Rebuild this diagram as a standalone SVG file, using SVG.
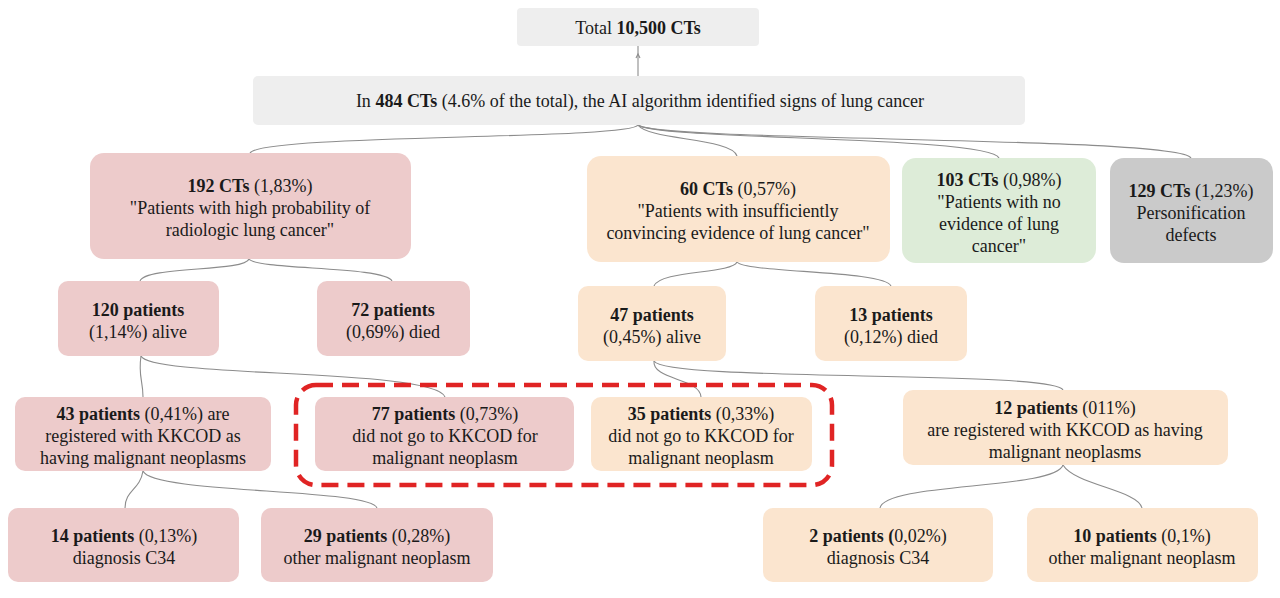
<svg xmlns="http://www.w3.org/2000/svg" width="1280" height="598" viewBox="0 0 1280 598">
<style>
text{font-family:"Liberation Serif","Times New Roman",serif;font-size:18px;fill:#1a1a1a;text-anchor:middle}
.b{font-weight:bold}
.gray{fill:#eeeeee}
.pink{fill:#edcbcb}
.peach{fill:#fbe5cf}
.green{fill:#ddecd8}
.dgray{fill:#cacaca}
.c{fill:none;stroke:#8c8c8c;stroke-width:1.1}
</style>
<rect width="1280" height="598" fill="#ffffff"/>
<g id="connectors">
<path class="c" d="M638 46 L638 76"/>
<path class="c" d="M636 58 L638 54 L640 58"/>
<path class="c" d="M638 125 C630 140 262 134 250 153"/>
<path class="c" d="M638 125 C648 140 732 138 737 156"/>
<path class="c" d="M638 125 C655 140 990 136 999 158"/>
<path class="c" d="M638 125 C660 142 1180 136 1191 158"/>
<path class="c" d="M249 259 C245 272 145 266 140 281"/>
<path class="c" d="M249 259 C256 270 385 266 392 281"/>
<path class="c" d="M737 262 C732 274 660 270 654 286"/>
<path class="c" d="M737 262 C745 273 885 270 891 286"/>
<path class="c" d="M141 356 C138 376 143 380 143 397"/>
<path class="c" d="M141 356 C150 378 435 368 445 397"/>
<path class="c" d="M143 471 C140 490 125 490 125 508"/>
<path class="c" d="M143 471 C152 494 370 488 377 508"/>
<path class="c" d="M654 361 C652 380 700 378 701 397"/>
<path class="c" d="M654 361 C665 382 1055 370 1063 390"/>
<path class="c" d="M1063 465 C1055 490 885 482 880 508"/>
<path class="c" d="M1063 465 C1075 485 1138 490 1142 508"/>
</g>
<g id="n-total"><rect class="gray" x="517" y="8" width="242" height="38" rx="4"/><text x="638" y="34">Total <tspan class="b">10,500 CTs</tspan></text></g>
<g id="n-484"><rect class="gray" x="253" y="76" width="772" height="49" rx="5"/><text x="640" y="107">In <tspan class="b">484 CTs</tspan> (4.6% of the total), the AI algorithm identified signs of lung cancer</text></g>
<g id="n-192"><rect class="pink" x="90" y="153" width="321" height="106" rx="14"/>
<text x="250" y="192"><tspan class="b">192 CTs</tspan> (1,83%)</text>
<text x="250" y="214">"Patients with high probability of</text>
<text x="250" y="236">radiologic lung cancer"</text></g>
<g id="n-60"><rect class="peach" x="587" y="156" width="303" height="106" rx="14"/>
<text x="738" y="195"><tspan class="b">60 CTs</tspan>  (0,57%)</text>
<text x="738" y="217">"Patients with insufficiently</text>
<text x="738" y="239">convincing evidence of lung cancer"</text></g>
<g id="n-103"><rect class="green" x="902" y="158" width="194" height="105" rx="14"/>
<text x="999" y="186"><tspan class="b">103 CTs</tspan>  (0,98%)</text>
<text x="999" y="208">"Patients with no</text>
<text x="999" y="230">evidence of lung</text>
<text x="999" y="252">cancer"</text></g>
<g id="n-129"><rect class="dgray" x="1110" y="158" width="163" height="105" rx="14"/>
<text x="1191" y="197"><tspan class="b">129 CTs</tspan> (1,23%)</text>
<text x="1191" y="219">Personification</text>
<text x="1191" y="241">defects</text></g>
<g id="n-120"><rect class="pink" x="58" y="281" width="161" height="75" rx="10"/>
<text x="138" y="316" class="b">120 patients</text>
<text x="138" y="338">(1,14%) alive</text></g>
<g id="n-72"><rect class="pink" x="317" y="281" width="153" height="75" rx="10"/>
<text x="393" y="316" class="b">72 patients</text>
<text x="393" y="338">(0,69%) died</text></g>
<g id="n-47"><rect class="peach" x="578" y="286" width="148" height="75" rx="10"/>
<text x="652" y="321" class="b">47 patients</text>
<text x="652" y="343">(0,45%) alive</text></g>
<g id="n-13"><rect class="peach" x="815" y="286" width="152" height="75" rx="10"/>
<text x="891" y="321" class="b">13 patients</text>
<text x="891" y="343">(0,12%) died</text></g>
<g id="n-43"><rect class="pink" x="15" y="397" width="256" height="74" rx="10"/>
<text x="143" y="420"><tspan class="b">43 patients</tspan> (0,41%) are</text>
<text x="143" y="442">registered with KKCOD as</text>
<text x="143" y="464">having malignant neoplasms</text></g>
<g id="n-77"><rect class="pink" x="315" y="397" width="259" height="74" rx="10"/>
<text x="445" y="420"><tspan class="b">77 patients</tspan> (0,73%)</text>
<text x="445" y="442">did not go to KKCOD for</text>
<text x="445" y="464">malignant neoplasm</text></g>
<g id="n-35"><rect class="peach" x="591" y="397" width="221" height="74" rx="10"/>
<text x="701" y="420"><tspan class="b">35 patients</tspan> (0,33%)</text>
<text x="701" y="442">did not go to KKCOD for</text>
<text x="701" y="464">malignant neoplasm</text></g>
<g id="n-12"><rect class="peach" x="903" y="390" width="325" height="75" rx="10"/>
<text x="1065" y="414"><tspan class="b">12 patients</tspan> (011%)</text>
<text x="1065" y="436">are registered with KKCOD as having</text>
<text x="1065" y="458">malignant neoplasms</text></g>
<g id="n-14"><rect class="pink" x="8" y="508" width="231" height="74" rx="10"/>
<text x="124" y="542"><tspan class="b">14 patients</tspan> (0,13%)</text>
<text x="124" y="564">diagnosis C34</text></g>
<g id="n-29"><rect class="pink" x="261" y="508" width="232" height="74" rx="10"/>
<text x="377" y="542"><tspan class="b">29 patients</tspan> (0,28%)</text>
<text x="377" y="564">other malignant neoplasm</text></g>
<g id="n-2"><rect class="peach" x="763" y="508" width="230" height="74" rx="10"/>
<text x="878" y="542"><tspan class="b">2 patients (</tspan>0,02%)</text>
<text x="878" y="564">diagnosis C34</text></g>
<g id="n-10"><rect class="peach" x="1027" y="508" width="231" height="74" rx="10"/>
<text x="1142" y="542"><tspan class="b">10 patients</tspan> (0,1%)</text>
<text x="1142" y="564">other malignant neoplasm</text></g>
<g id="highlight"><rect x="296" y="385" width="536" height="100" rx="20" fill="none" stroke="#e02424" stroke-width="4.5" stroke-dasharray="17 9"/></g>
</svg>
